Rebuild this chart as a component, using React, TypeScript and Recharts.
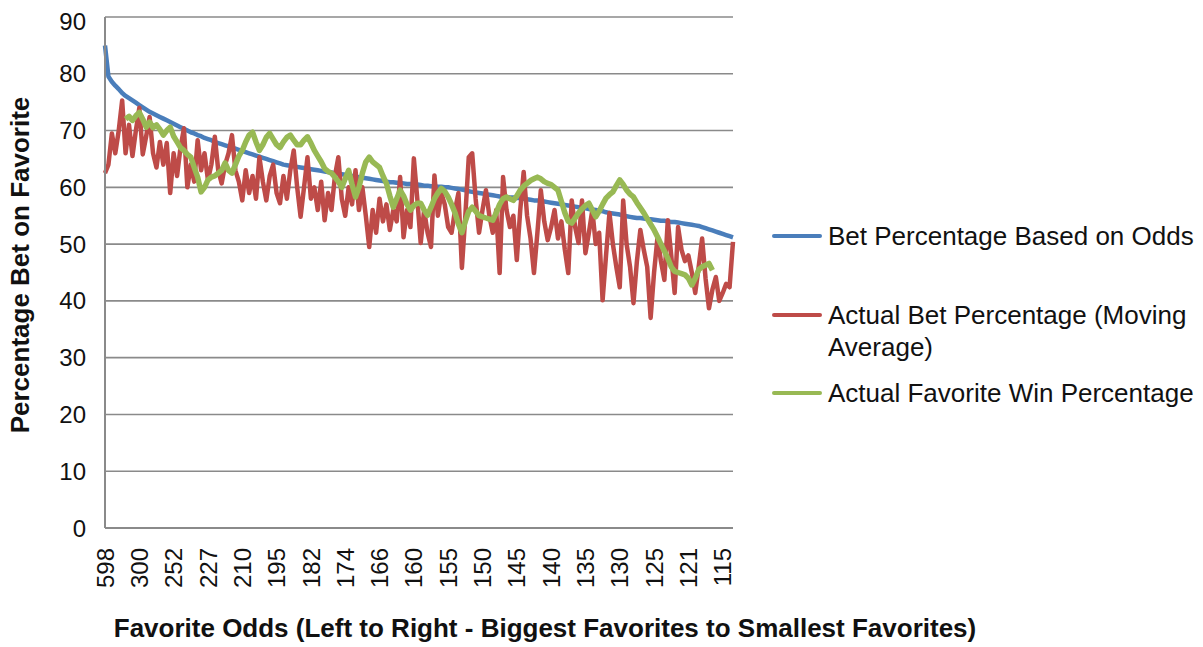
import { LineChart, Line, XAxis, YAxis, CartesianGrid, Legend, Label } from "recharts";

// x tick labels, one every 10 points
const TICK_LABELS = [
  "598", "300", "252", "227", "210", "195", "182", "174", "166", "160",
  "155", "150", "145", "140", "135", "130", "125", "121", "115",
];

const Y_TICKS = [0, 10, 20, 30, 40, 50, 60, 70, 80, 90];

const BET_BY_ODDS = [
  85.0, 79.5, 78.6, 77.9, 77.3, 76.6, 76.1, 75.7, 75.3, 74.9,
  74.5, 74.1, 73.7, 73.3, 73.0, 72.7, 72.4, 72.1, 71.8, 71.5,
  71.2, 70.9, 70.6, 70.3, 70.0, 69.7, 69.5, 69.2, 69.0, 68.7,
  68.5, 68.3, 68.0, 67.8, 67.6, 67.4, 67.2, 67.0, 66.8, 66.6,
  66.4, 66.2, 66.0, 65.8, 65.6, 65.4, 65.2, 65.0, 64.8, 64.6,
  64.4, 64.2, 64.0, 63.9, 63.8, 63.7, 63.6, 63.5, 63.4, 63.3,
  63.2, 63.1, 63.0, 62.9, 62.8, 62.7, 62.6, 62.5, 62.4, 62.3,
  62.2, 62.1, 62.0, 61.9, 61.8, 61.7, 61.6, 61.5, 61.4, 61.3,
  61.2, 61.1, 61.0, 60.9, 60.9, 60.8, 60.8, 60.7, 60.6, 60.6,
  60.5, 60.5, 60.4, 60.3, 60.3, 60.2, 60.2, 60.1, 60.1, 60.0,
  60.0, 59.9, 59.8, 59.7, 59.6, 59.5, 59.3, 59.2, 59.1, 59.0,
  58.9, 58.8, 58.7, 58.6, 58.5, 58.4, 58.3, 58.3, 58.2, 58.2,
  58.1, 58.1, 58.0, 57.9, 57.8, 57.7, 57.7, 57.6, 57.5, 57.4,
  57.3, 57.2, 57.1, 57.0, 56.9, 56.8, 56.7, 56.6, 56.5, 56.4,
  56.3, 56.2, 56.1, 56.0, 55.9, 55.8, 55.6, 55.5, 55.4, 55.3,
  55.2, 55.0, 54.9, 54.8, 54.7, 54.6, 54.6, 54.5, 54.4, 54.4,
  54.3, 54.2, 54.1, 54.1, 54.0, 53.9, 53.9, 53.8, 53.7, 53.6,
  53.5, 53.4, 53.3, 53.2, 53.0, 52.8, 52.6, 52.4, 52.2, 52.0,
  51.8, 51.6, 51.4, 51.2,
];

const ACTUAL_BET = [
  62.5, 64, 69.5, 66, 70, 75.3, 66, 71, 65.5, 70,
  74, 65.8, 69, 72.4, 66, 63.5, 68, 64, 67.8, 59,
  66, 62, 67, 70.4, 60, 64, 61, 68.3, 63, 66,
  61.3, 64, 68.9, 63, 60.7, 64, 66, 69.2, 63, 61,
  57.7, 63, 59, 62, 58, 65.3, 61, 57.7, 62, 64,
  59, 57.2, 62, 58, 63, 66.5, 60, 54.8, 60, 65.3,
  58, 60, 56, 61, 54.2, 59, 56, 62, 65.3, 58,
  55, 60, 57, 63, 56, 60, 55, 49.5, 56, 52,
  58, 54, 57, 52.5, 56, 54, 61.8, 51.2, 56, 53,
  65.1, 58, 50.2, 56, 52, 49.5, 62.1, 55, 59, 57,
  53, 52, 56, 59, 45.8, 55, 65.3, 66, 58, 52,
  56, 59.5, 55, 52, 56, 44.9, 61.8, 56, 53, 55,
  47.2, 56, 62.7, 55, 51, 44.9, 52, 59.5, 54, 50.7,
  53, 56, 51, 54, 49, 44.9, 57.7, 53, 50.2, 57.7,
  48.4, 52, 56, 50, 52, 40.1, 48, 55.5, 50, 46,
  42.4, 57.7, 50, 46, 39.6, 47, 52.5, 49, 46, 37,
  45, 51.2, 47, 43.7, 54.2, 48, 41.4, 53, 49, 47,
  48, 45, 41.4, 46, 51, 44, 38.7, 42, 44.2, 40,
  41.4, 43, 42.4, 50.4,
];

const FAVORITE_WIN = [
  null, null, null, null, null, null, 72, 72.5, 71.8, 72.6,
  73.2, 72, 70.6, 71.5, 70.5, 71, 70.2, 69.2, 70, 70.6,
  69, 68, 67, 66.5, 65.8, 65.3, 63.5, 61.8, 59.2, 60,
  61.3, 61.8, 62, 62.5, 63, 64.3, 63, 62.5, 64, 65.5,
  66.5, 68, 69.2, 69.7, 68, 66.5, 67.5, 68.8, 69.5, 68.5,
  67.5, 67, 68, 68.8, 69.2, 68.3, 67.5, 67.5, 68.3, 68.9,
  67.8, 66.5, 65.5, 64.5, 63.3, 62.8, 62.5, 61.8, 61, 60,
  61.5, 63, 60.5, 58.3, 60, 62.5, 64.5, 65.3, 64.5, 64,
  63.5, 62, 60.7, 58.5, 56.5, 58, 59.5, 58.5, 57, 56,
  56.8, 57.2, 57.2, 56, 55.1, 56.5, 58, 59, 59.8, 59.3,
  58.3, 57, 55.5, 53.5, 52, 54, 55.8, 56.5, 55.8, 55,
  54.8, 54.6, 54.4, 54.2, 55.5, 57, 58, 58.3, 58, 57.7,
  58.5, 59.5, 60.2, 60.7, 61.2, 61.5, 61.8, 61.5, 61, 60.7,
  60.5, 60, 59.5, 57.5, 55.5, 54, 53.7, 54.6, 55.5, 56.2,
  56.8, 57.2, 56, 54.8, 55.8, 57, 58.1, 58.7, 59.2, 60.3,
  61.3, 60.5, 59.5, 58.8, 58.3, 57.3, 56.4, 55.5, 54.5, 53.5,
  52.5, 51.3, 50, 48.8, 47.5, 46, 45.2, 45, 44.8, 44.6,
  44, 42.8, 44, 45.5, 46, 46.3, 46.6, 45.4, null, null,
  null, null, null, null,
];

const SERIES = [
  { key: "odds", name: "Bet Percentage Based on Odds", color: "#4a7ebb", width: 4.5 },
  { key: "actual", name: "Actual Bet Percentage (Moving Average)", color: "#be4b48", width: 4.5 },
  { key: "win", name: "Actual Favorite Win Percentage", color: "#98b954", width: 5.5 },
];

const data = BET_BY_ODDS.map((v, i) => ({
  idx: i,
  odds: v,
  actual: ACTUAL_BET[i],
  win: FAVORITE_WIN[i],
}));

const FONT = "'Liberation Sans', Arial, sans-serif";

function XTick({ x, y, payload }: any) {
  return (
    <g transform={`translate(${x},${y})`}>
      <text
        transform="rotate(-90)"
        textAnchor="end"
        dy="0.36em"
        fontSize={24}
        fontFamily={FONT}
        fill="#111"
      >
        {TICK_LABELS[Math.round(payload.value / 10)]}
      </text>
    </g>
  );
}

// legend keeps the series order (recharts sorts its payload by name)
function renderLegend() {
  const gaps = [47, 14, 0];
  return (
    <div style={{ fontFamily: FONT, fontSize: 26, lineHeight: "32px", color: "#111" }}>
      {SERIES.map((s, i) => (
        <div key={s.key} style={{ display: "flex", alignItems: "flex-start", marginBottom: gaps[i] }}>
          <div
            style={{
              width: 50,
              height: 4,
              borderRadius: 2,
              background: s.color,
              marginTop: 14,
              marginRight: 6,
              flexShrink: 0,
            }}
          />
          <div style={{ width: 375 }}>{s.name}</div>
        </div>
      ))}
    </div>
  );
}

export default function App() {
  return (
    <LineChart
      width={1195}
      height={639}
      data={data}
      margin={{ top: 9, right: 470, left: 0, bottom: 0 }}
    >
      <CartesianGrid vertical={false} stroke="#8a8a8a" strokeWidth={1.6} />
      <XAxis
        dataKey="idx"
        type="number"
        domain={[0, 183]}
        ticks={[0, 10, 20, 30, 40, 50, 60, 70, 80, 90, 100, 110, 120, 130, 140, 150, 160, 170, 180]}
        interval={0}
        height={119}
        tickLine={false}
        tickSize={0}
        tickMargin={20}
        stroke="#8a8a8a"
        strokeWidth={2}
        tick={<XTick />}
      >
        <Label
          content={() => (
            <text
              x={537}
              y={620}
              textAnchor="middle"
              dominantBaseline="central"
              fontSize={26}
              fontWeight="bold"
              fontFamily={FONT}
              fill="#111"
            >
              Favorite Odds (Left to Right - Biggest Favorites to Smallest Favorites)
            </text>
          )}
        />
      </XAxis>
      <YAxis
        domain={[0, 90]}
        ticks={Y_TICKS}
        width={97}
        tickLine={false}
        tickSize={0}
        tickMargin={19}
        stroke="#8a8a8a"
        strokeWidth={2}
        tick={{ fontSize: 24, fontFamily: FONT, fill: "#111" }}
      >
        <Label
          content={() => (
            <text
              x={12}
              y={257}
              transform="rotate(-90, 12, 257)"
              textAnchor="middle"
              dominantBaseline="central"
              fontSize={26}
              fontWeight="bold"
              fontFamily={FONT}
              fill="#111"
            >
              Percentage Bet on Favorite
            </text>
          )}
        />
      </YAxis>
      <Legend
        layout="vertical"
        align="center"
        verticalAlign="middle"
        wrapperStyle={{ left: 764, top: 212, width: 430 }}
        content={renderLegend}
      />
      {SERIES.map((s) => (
        <Line
          key={s.key}
          type="linear"
          dataKey={s.key}
          name={s.name}
          stroke={s.color}
          strokeWidth={s.width}
          strokeLinejoin="round"
          dot={false}
          activeDot={false}
          connectNulls={false}
          isAnimationActive={false}
        />
      ))}
    </LineChart>
  );
}
